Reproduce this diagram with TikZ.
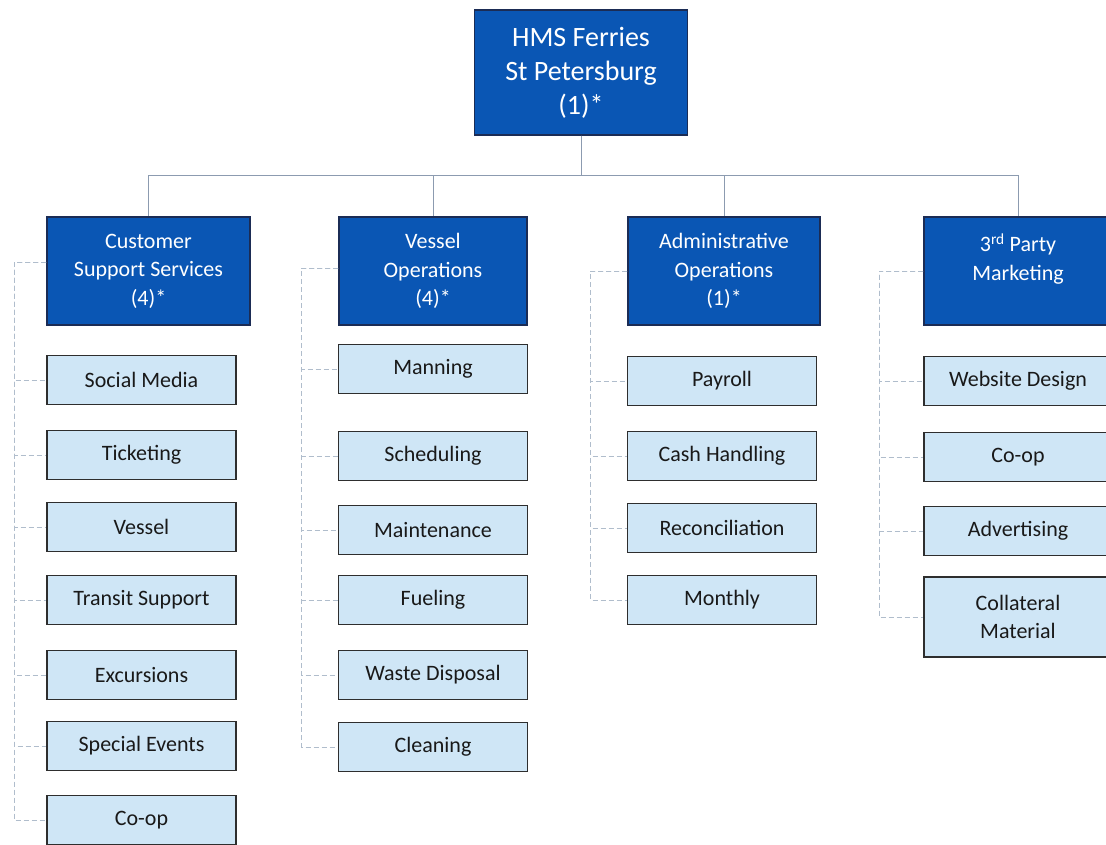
\documentclass[tikz,border=0pt]{standalone}
\usepackage{fontspec}
\setmainfont{Carlito}
\usetikzlibrary{positioning}
\definecolor{hmsblue}{HTML}{0A56B4}
\definecolor{hmsnavy}{HTML}{1B2C55}
\definecolor{tasklight}{HTML}{CFE6F6}
\definecolor{taskedge}{HTML}{2E2E2E}
\definecolor{busline}{HTML}{8C9BB0}
\definecolor{railline}{HTML}{B0BDCC}

\begin{document}
\begin{tikzpicture}[
        x=1pt,
        y=-1pt,
        head/.style={draw=hmsnavy, line width=1.2pt, fill=hmsblue, text=white,
                     align=center, inner sep=0pt},
        root/.style={head, minimum width=213pt, minimum height=125pt,
                     font=\fontsize{28}{34}\selectfont},
        dept/.style={head, minimum height=108pt, font=\fontsize{22}{28.5}\selectfont},
        task/.style={draw=taskedge, line width=1.9pt, fill=tasklight, text=black!90,
                     minimum width=189pt, minimum height=49pt, inner sep=0pt, align=center,
                     font=\fontsize{22}{28}\selectfont},
        bus/.style={draw=busline, line width=1pt},
        rail/.style={draw=railline, line width=0.9pt, dash pattern=on 5pt off 3pt}
    ]
        \useasboundingbox[fill=white] (0,0) rectangle (1106,844);

        % top and departments
        \node[root] (hms) at (581,72.5) {HMS Ferries\\St Petersburg\\(1)*};
        \node[dept, minimum width=203pt] (css) at (148.5,271) {Customer\\Support Services\\(4)*};
        \node[dept, minimum width=188pt] (vo) at (433,271) {Vessel\\Operations\\(4)*};
        \node[dept, minimum width=192pt] (ao) at (724,271) {Administrative\\Operations\\(1)*};
        \node[dept, minimum width=188pt] (tpm) at (1018,271) {3\textsuperscript{rd} Party\\Marketing\\~};

        \draw[bus] (hms.south) -- ++(0,40) -| (css.north);
        \draw[bus] (hms.south) -- ++(0,40) -| (vo.north);
        \draw[bus] (hms.south) -- ++(0,40) -| (ao.north);
        \draw[bus] (hms.south) -- ++(0,40) -| (tpm.north);

        % customer support services
        \node[task] (css1) at (141.5,380) {Social Media};
        \node[task] (css2) at (141.5,455) {Ticketing};
        \node[task] (css3) at (141.5,527) {Vessel};
        \node[task] (css4) at (141.5,600) {Transit Support};
        \node[task] (css5) at (141.5,675) {Excursions};
        \node[task] (css6) at (141.5,746) {Special Events};
        \node[task] (css7) at (141.5,820) {Co-op};

        % vessel operations
        \node[task] (vo1) at (433,369) {Manning};
        \node[task] (vo2) at (433,456) {Scheduling};
        \node[task] (vo3) at (433,530) {Maintenance};
        \node[task] (vo4) at (433,600) {Fueling};
        \node[task] (vo5) at (433,675) {Waste Disposal};
        \node[task] (vo6) at (433,747) {Cleaning};

        % administrative operations
        \node[task] (ao1) at (722,381) {Payroll};
        \node[task] (ao2) at (722,456) {Cash Handling};
        \node[task] (ao3) at (722,528) {Reconciliation};
        \node[task] (ao4) at (722,600) {Monthly};

        % 3rd party marketing
        \node[task, minimum width=188pt] (tpm1) at (1018,381) {Website Design};
        \node[task, minimum width=188pt] (tpm2) at (1018,457) {Co-op};
        \node[task, minimum width=188pt] (tpm3) at (1018,531) {Advertising};
        \node[task, minimum width=188pt, minimum height=80pt] (tpm4) at (1018,617) {Collateral\\Material};

        \draw[rail] ([yshift=9pt]css.west) -| ([xshift=-32pt]css1.west) -- (css1.west);
        \draw[rail] ([yshift=9pt]css.west) -| ([xshift=-32pt]css2.west) -- (css2.west);
        \draw[rail] ([yshift=9pt]css.west) -| ([xshift=-32pt]css3.west) -- (css3.west);
        \draw[rail] ([yshift=9pt]css.west) -| ([xshift=-32pt]css4.west) -- (css4.west);
        \draw[rail] ([yshift=9pt]css.west) -| ([xshift=-32pt]css5.west) -- (css5.west);
        \draw[rail] ([yshift=9pt]css.west) -| ([xshift=-32pt]css6.west) -- (css6.west);
        \draw[rail] ([yshift=9pt]css.west) -| ([xshift=-32pt]css7.west) -- (css7.west);

        \draw[rail] ([yshift=3pt]vo.west) -| ([xshift=-36pt]vo1.west) -- (vo1.west);
        \draw[rail] ([yshift=3pt]vo.west) -| ([xshift=-36pt]vo2.west) -- (vo2.west);
        \draw[rail] ([yshift=3pt]vo.west) -| ([xshift=-36pt]vo3.west) -- (vo3.west);
        \draw[rail] ([yshift=3pt]vo.west) -| ([xshift=-36pt]vo4.west) -- (vo4.west);
        \draw[rail] ([yshift=3pt]vo.west) -| ([xshift=-36pt]vo5.west) -- (vo5.west);
        \draw[rail] ([yshift=3pt]vo.west) -| ([xshift=-36pt]vo6.west) -- (vo6.west);

        \draw[rail] (ao.west) -| ([xshift=-36pt]ao1.west) -- (ao1.west);
        \draw[rail] (ao.west) -| ([xshift=-36pt]ao2.west) -- (ao2.west);
        \draw[rail] (ao.west) -| ([xshift=-36pt]ao3.west) -- (ao3.west);
        \draw[rail] (ao.west) -| ([xshift=-36pt]ao4.west) -- (ao4.west);

        \draw[rail] (tpm.west) -| ([xshift=-44pt]tpm1.west) -- (tpm1.west);
        \draw[rail] (tpm.west) -| ([xshift=-44pt]tpm2.west) -- (tpm2.west);
        \draw[rail] (tpm.west) -| ([xshift=-44pt]tpm3.west) -- (tpm3.west);
        \draw[rail] (tpm.west) -| ([xshift=-44pt]tpm4.west) -- (tpm4.west);
    \end{tikzpicture}
\end{document}
